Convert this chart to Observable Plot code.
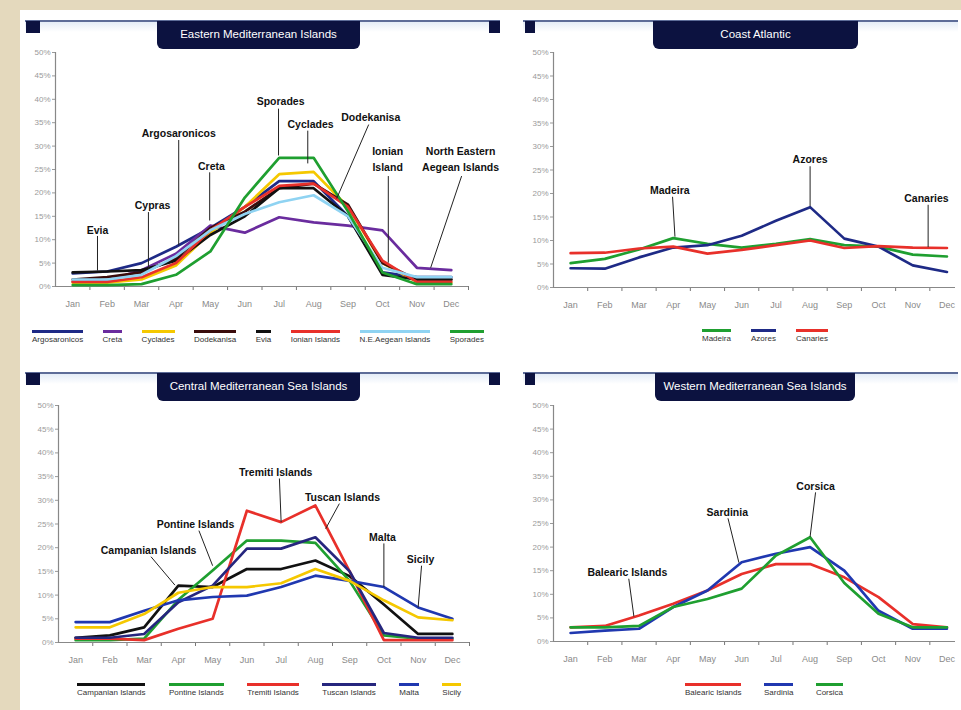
<!DOCTYPE html>
<html>
<head>
<meta charset="utf-8">
<script src="https://cdn.jsdelivr.net/npm/d3@7"></script>
<script src="https://cdn.jsdelivr.net/npm/@observablehq/plot@0.6"></script>
<style>
  body { margin: 0; background: #e4d9bd; font-family: "Liberation Sans", Arial, sans-serif; }
  #root { position: relative; width: 961px; height: 710px; overflow: hidden; }
  .abs { position: absolute; }
  .sheet { left: 20px; top: 10px; width: 941px; height: 700px; background: #fff; }
  .strip { height: 2px; background: #5d6c98; }
  .glow { height: 10px; background: linear-gradient(#e4ecf7, rgba(255,255,255,0)); }
  .sq { width: 12px; height: 12px; background: #0c1240; }
  .title { height: 28px; background: #0c1240; color: #fff; font-size: 11.5px; line-height: 27px; text-align: center; border-radius: 0 0 6px 6px; white-space: nowrap; }
  .legend { display: flex; justify-content: space-between; }
  .item { display: flex; flex-direction: column; align-items: stretch; }
  .item .bar { height: 3px; }
  .item .lab { font-size: 8px; color: #333; margin-top: 2px; white-space: nowrap; line-height: 9px; }
  svg { overflow: visible; }
</style>
</head>
<body>
<div id="root"><div class="abs sheet"></div></div>
<script>
// ---------- shared axes ----------
const months = ["Jan","Feb","Mar","Apr","May","Jun","Jul","Aug","Sep","Oct","Nov","Dec"];
const yTicks = [0, 5, 10, 15, 20, 25, 30, 35, 40, 45, 50];

// ---------- Eastern Mediterranean Islands ----------
const eastNames = ["Argosaronicos","Creta","Cyclades","Dodekanisa","Evia","Ionian Islands","N.E.Aegean Islands","Sporades"];
const argosaronicos = [2.8, 3.2, 5, 8.5, 12.5, 17, 22.5, 22.5, 15, 3, 2, 2];
const creta         = [1, 1.2, 3.5, 7, 13, 11.5, 14.8, 13.7, 13, 12, 4, 3.5];
const cyclades      = [0.8, 0.8, 1.5, 4.5, 11.5, 17, 24, 24.5, 17, 5, 1, 0.8];
const dodekanisa    = [1.5, 2, 3, 6, 12.5, 16, 21, 22, 17.5, 5, 1.5, 1.5];
const evia          = [3, 3.2, 3.5, 5.5, 11, 15, 21, 21, 15, 2.5, 1.5, 1.5];
const ionian        = [1, 1, 2, 5, 12, 17, 21.5, 22, 17, 5.5, 1, 1];
const neAegean      = [1.5, 1.5, 2.5, 6.5, 12, 15.5, 18, 19.5, 15, 4, 2, 2];
const sporades      = [0.3, 0.3, 0.5, 2.5, 7.5, 19, 27.5, 27.5, 16, 3, 0.5, 0.5];
const eastNotes = [
  {text: "Evia", x: 0.72, y: 12.4, x1: 0.72, y1: 10.8, x2: 0.72, y2: 3.4},
  {text: "Cypras", x: 2.32, y: 17.7, x1: 2.2, y1: 15.9, x2: 2.2, y2: 3.8},
  {text: "Argosaronicos", x: 3.08, y: 33.1, x1: 3.08, y1: 31.3, x2: 3.08, y2: 8.8},
  {text: "Creta", x: 4.03, y: 26.1, x1: 3.98, y1: 24.4, x2: 3.98, y2: 14.1},
  {text: "Sporades", x: 6.04, y: 39.8, x1: 5.98, y1: 38, x2: 5.98, y2: 28},
  {text: "Cyclades", x: 6.91, y: 35, x1: 6.83, y1: 33.3, x2: 6.83, y2: 26.3},
  {text: "Dodekanisa", x: 8.66, y: 36.5, x1: 8.6, y1: 34.6, x2: 7.67, y2: 18.8},
  {text: "Ionian\nIsland", x: 9.15, y: 27.5, x1: 9.17, y1: 23.6, x2: 9.17, y2: 5.1},
  {text: "North Eastern\nAegean Islands", x: 11.27, y: 27.5, x1: 11.3, y1: 23.6, x2: 10.4, y2: 4}
];

// ---------- Coast Atlantic ----------
const atlNames = ["Madeira","Azores","Canaries"];
const madeira  = [5.2, 6.1, 8.1, 10.5, 9.3, 8.5, 9.3, 10.3, 9, 8.7, 7, 6.6];
const azores   = [4.1, 4, 6.4, 8.5, 9, 11, 14.2, 17.1, 10.4, 8.7, 4.7, 3.3];
const canaries = [7.3, 7.4, 8.3, 8.7, 7.2, 8, 9, 10, 8.4, 8.8, 8.5, 8.4];
const atlNotes = [
  {text: "Madeira", x: 2.9, y: 21, x1: 2.98, y1: 19.3, x2: 3.05, y2: 10.8},
  {text: "Azores", x: 7.0, y: 27.7, x1: 7.0, y1: 25.8, x2: 7.0, y2: 17.3},
  {text: "Canaries", x: 10.4, y: 19.4, x1: 10.45, y1: 17.6, x2: 10.45, y2: 8.6}
];

// ---------- Central Mediterranean Sea Islands ----------
const centNames = ["Campanian Islands","Pontine Islands","Tremiti Islands","Tuscan Islands","Malta","Sicily"];
const campanian = [1, 1.5, 3.2, 12, 11.7, 15.5, 15.5, 17.3, 14, 8, 1.8, 1.8];
const pontine   = [0.5, 0.5, 0.8, 9, 15.2, 21.5, 21.5, 21, 13, 1.5, 0.8, 0.8];
const tremiti   = [0.8, 0.8, 0.5, 2.9, 5, 27.8, 25.4, 28.9, 15, 0.5, 0.5, 0.5];
const tuscan    = [1, 1, 1.8, 8.5, 12, 19.8, 19.8, 22.2, 15, 2, 1, 1];
const malta     = [4.3, 4.3, 6.7, 8.9, 9.6, 9.9, 11.7, 14.1, 13, 11.7, 7.4, 5];
const sicily    = [3.2, 3.2, 6, 10.5, 11.7, 11.7, 12.5, 15.5, 13, 8.9, 5.3, 4.7];
const centNotes = [
  {text: "Tremiti Islands", x: 5.84, y: 36.3, x1: 5.95, y1: 34.6, x2: 6.0, y2: 25.4},
  {text: "Tuscan Islands", x: 7.79, y: 31, x1: 7.7, y1: 29.3, x2: 7.3, y2: 24},
  {text: "Pontine Islands", x: 3.5, y: 25.3, x1: 3.6, y1: 23.6, x2: 4.0, y2: 16.2},
  {text: "Campanian Islands", x: 2.13, y: 19.8, x1: 2.2, y1: 18.1, x2: 2.9, y2: 12.1},
  {text: "Malta", x: 8.96, y: 22.6, x1: 9.0, y1: 20.9, x2: 9.0, y2: 11.7},
  {text: "Sicily", x: 10.07, y: 17.9, x1: 10.1, y1: 16.2, x2: 10.0, y2: 7.4}
];

// ---------- Western Mediterranean Sea Islands ----------
const westNames = ["Balearic Islands","Sardinia","Corsica"];
const balearic = [3, 3.3, 5.5, 8, 10.8, 14.3, 16.4, 16.4, 13.6, 9.4, 3.7, 3];
const sardinia = [1.8, 2.3, 2.7, 7.3, 10.8, 16.8, 18.6, 20, 15, 6.5, 2.7, 2.7];
const corsica  = [3, 3, 3.3, 7.3, 9, 11.2, 18.2, 22.1, 12.4, 5.9, 3, 3];
const westNotes = [
  {text: "Balearic Islands", x: 1.66, y: 15, x1: 1.7, y1: 13.3, x2: 1.85, y2: 5.3},
  {text: "Sardinia", x: 4.58, y: 27.8, x1: 4.6, y1: 26.1, x2: 4.92, y2: 16.7},
  {text: "Corsica", x: 7.16, y: 33.3, x1: 7.16, y1: 31.6, x2: 7.0, y2: 22.2}
];

// ---------- rendering ----------
const root = document.getElementById("root");
const navy = "#1e2a86", purple = "#6a2c9e", yellow = "#f5c800", brown = "#3a0c0c",
      black = "#111111", red = "#e8302a", lightBlue = "#8fd3f2", green = "#1f9f30", blue = "#2038b0";

function el(cls, style, html) {
  const d = document.createElement("div");
  d.className = "abs " + cls;
  Object.assign(d.style, style);
  if (html != null) d.textContent = html;
  root.appendChild(d);
  return d;
}

function header(top, stripL, stripR, squares, titleL, titleW, title) {
  el("strip", {left: stripL + "px", top: top + "px", width: (stripR - stripL) + "px"});
  el("glow", {left: stripL + "px", top: (top + 2) + "px", width: (stripR - stripL) + "px"});
  for (const [l, w] of squares) el("sq", {left: l + "px", top: (top + 1) + "px", width: w + "px"});
  el("title", {left: titleL + "px", top: (top + 1) + "px", width: titleW + "px"}, title);
}

function legend(left, right, top, names, colors) {
  const wrap = el("", {left: left + "px", top: top + "px", width: (right - left) + "px"});
  const lg = document.createElement("div");
  lg.className = "legend";
  names.forEach((n, k) => {
    const it = document.createElement("div");
    it.className = "item";
    const bar = document.createElement("div");
    bar.className = "bar"; bar.style.background = colors[k];
    const lab = document.createElement("div");
    lab.className = "lab"; lab.textContent = n;
    it.appendChild(bar); it.appendChild(lab); lg.appendChild(it);
  });
  wrap.appendChild(lg);
}

function panel(cfg) {
  const data = cfg.series.flatMap((vals, k) => vals.map((v, i) => ({name: cfg.names[k], i, v})));
  const bounds = d3.range(0.5, 12, 1).filter(b => b <= cfg.xmax + 1e-6);
  const svg = Plot.plot({
    width: cfg.w, height: cfg.h,
    marginLeft: cfg.ml, marginRight: cfg.mr, marginTop: cfg.mt, marginBottom: cfg.mb,
    x: {domain: [-0.5, cfg.xmax], axis: null},
    y: {domain: [0, 50], axis: null},
    color: {domain: cfg.names, range: cfg.colors},
    style: {background: "transparent", overflow: "visible", fontFamily: "'Liberation Sans', Arial, sans-serif"},
    marks: [
      Plot.axisY({ticks: yTicks, tickFormat: d => d + "%", tickSize: 3, tickPadding: 2, fontSize: 8, stroke: "#999", fill: "#9a9a9a"}),
      Plot.axisX({ticks: bounds, tickFormat: () => "", tickSize: 4, stroke: "#777"}),
      Plot.axisX({ticks: d3.range(12), tickFormat: i => months[i], tickSize: 0, tickPadding: 14, fontSize: 9, fill: "#8a8a8a"}),
      Plot.ruleX([-0.5], {stroke: "#888", strokeWidth: 1.2}),
      Plot.ruleY([0], {stroke: "#888", strokeWidth: 1.2}),
      Plot.line(data, {x: "i", y: "v", z: "name", stroke: "name", strokeWidth: 2.7, strokeLinejoin: "round"}),
      Plot.link(cfg.notes, {x1: "x1", y1: "y1", x2: "x2", y2: "y2", stroke: "#222", strokeWidth: 1}),
      Plot.text(cfg.notes, {x: "x", y: "y", text: "text", fontWeight: "bold", fontSize: 10.5, fill: "#111", lineHeight: 1.55})
    ]
  });
  svg.style.position = "absolute";
  svg.style.left = cfg.left + "px";
  svg.style.top = cfg.top + "px";
  root.appendChild(svg);
}

// headers
header(20, 25, 500, [[26, 14], [489, 11]], 157, 203, "Eastern Mediterranean Islands");
header(20, 523, 958, [[525, 10]], 653, 205, "Coast Atlantic");
header(372, 25, 500, [[26, 14], [489, 11]], 157, 203, "Central Mediterranean Sea Islands");
header(372, 523, 958, [[525, 10]], 655, 200, "Western Mediterranean Sea Islands");

const eastColors = [navy, purple, yellow, brown, black, red, lightBlue, green];
panel({left: 20, top: 40, w: 460, h: 280, ml: 35, mr: 12, mt: 12, mb: 34, xmax: 11.5,
  names: eastNames, colors: eastColors,
  series: [argosaronicos, creta, cyclades, dodekanisa, evia, ionian, neAegean, sporades], notes: eastNotes});
legend(32, 484, 330, eastNames, eastColors);

const atlColors = [green, navy, red];
panel({left: 500, top: 40, w: 461, h: 280, ml: 53, mr: 6, mt: 12, mb: 33, xmax: 11.25,
  names: atlNames, colors: atlColors,
  series: [madeira, azores, canaries], notes: atlNotes});
legend(702, 828, 329, atlNames, atlColors);

const centColors = [black, green, red, "#26267e", blue, yellow];
panel({left: 20, top: 393, w: 460, h: 283, ml: 38, mr: 11, mt: 12, mb: 34, xmax: 11.5,
  names: centNames, colors: centColors,
  series: [campanian, pontine, tremiti, tuscan, malta, sicily], notes: centNotes});
legend(77, 461, 683, centNames, centColors);

const westColors = [red, blue, green];
panel({left: 500, top: 393, w: 461, h: 282, ml: 53, mr: 6, mt: 12, mb: 34, xmax: 11.25,
  names: westNames, colors: westColors,
  series: [balearic, sardinia, corsica], notes: westNotes});
legend(685, 843, 683, westNames, westColors);
</script>
</body>
</html>
